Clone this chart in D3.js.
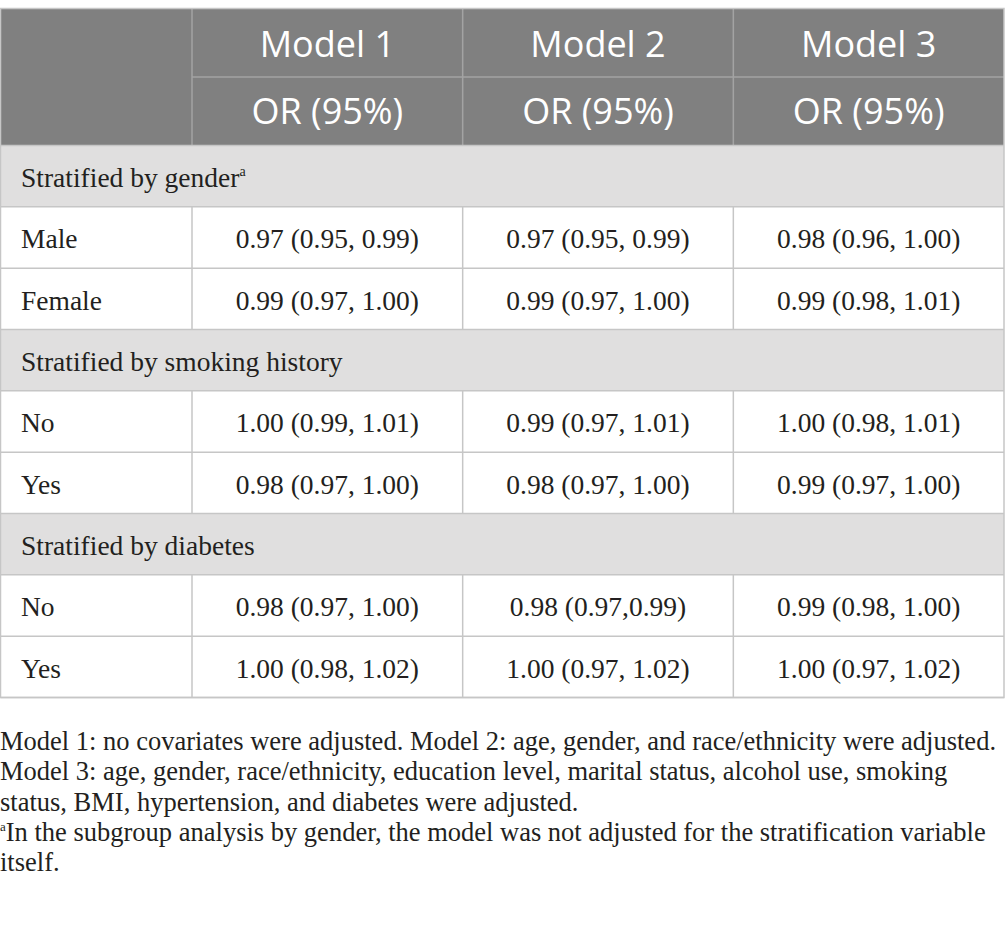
<!DOCTYPE html>
<html>
<head>
<meta charset="utf-8">
<script src="https://cdn.jsdelivr.net/npm/d3@7"></script>
<style>
  body { margin: 0; background: #fff; }
  svg { display: block; }
</style>
</head>
<body>
<div id="table"></div>
<script>
const models = ["Model 1", "Model 2", "Model 3"];
const subHeader = "OR (95%)";
const groups = ["Stratified by gender", "Stratified by smoking history", "Stratified by diabetes"];
const groupNotes = ["a", "", ""];
const subgroups = [["Male", "Female"], ["No", "Yes"], ["No", "Yes"]];
const model1 = ["0.97 (0.95, 0.99)", "0.99 (0.97, 1.00)", "1.00 (0.99, 1.01)", "0.98 (0.97, 1.00)", "0.98 (0.97, 1.00)", "1.00 (0.98, 1.02)"];
const model2 = ["0.97 (0.95, 0.99)", "0.99 (0.97, 1.00)", "0.99 (0.97, 1.01)", "0.98 (0.97, 1.00)", "0.98 (0.97,0.99)", "1.00 (0.97, 1.02)"];
const model3 = ["0.98 (0.96, 1.00)", "0.99 (0.98, 1.01)", "1.00 (0.98, 1.01)", "0.99 (0.97, 1.00)", "0.99 (0.98, 1.00)", "1.00 (0.97, 1.02)"];
const footnotes = [
    "Model 1: no covariates were adjusted. Model 2: age, gender, and race/ethnicity were adjusted.",
    "Model 3: age, gender, race/ethnicity, education level, marital status, alcohol use, smoking",
    "status, BMI, hypertension, and diabetes were adjusted.",
    "In the subgroup analysis by gender, the model was not adjusted for the stratification variable",
    "itself."
];
const footnoteMarks = ["", "", "", "a", ""];

const width = 1005, height = 929;
const tableLeft = 0.5, tableRight = 1004, labelRight = 192;
const headTop = 8.5, headBottom = 145.5, tableBottom = 697.5;
const colors = {
    head: "#808080", headLine: "#a3a3a3", group: "#e0dfdf",
    line: "#c6c6c6", text: "#231f20"
};
const serif = "'Liberation Serif', 'Times New Roman', serif";
const sans = "'Open Sans', 'Noto Sans', sans-serif";

// flatten groups into table rows
const rows = [];
let k = 0;
groups.forEach((g, i) => {
    rows.push({ type: "group", label: g, note: groupNotes[i], id: "g" + i });
    subgroups[i].forEach((s, j) => {
        rows.push({ type: "data", label: s, values: [model1[k], model2[k], model3[k]], id: "r" + i + j });
        k++;
    });
});

const svg = d3.select("#table").append("svg")
    .attr("width", width)
    .attr("height", height);

const x = d3.scaleBand().domain(models).range([labelRight, tableRight]);
const yHead = d3.scaleBand().domain(["model", "sub"]).range([headTop, headBottom]);
const y = d3.scaleBand().domain(rows.map(d => d.id)).range([headBottom, tableBottom]);

// header background
svg.append("rect")
    .attr("x", tableLeft).attr("y", headTop)
    .attr("width", tableRight - tableLeft).attr("height", headBottom - headTop)
    .attr("fill", colors.head);

// header grid
svg.selectAll(".head-v")
    .data(models)
    .enter().append("line")
    .attr("x1", d => x(d)).attr("x2", d => x(d))
    .attr("y1", headTop).attr("y2", headBottom)
    .attr("stroke", colors.headLine).attr("stroke-width", 1.5);

svg.append("line")
    .attr("x1", labelRight).attr("x2", tableRight)
    .attr("y1", yHead("sub")).attr("y2", yHead("sub"))
    .attr("stroke", colors.headLine).attr("stroke-width", 1.5);

svg.selectAll(".head-model")
    .data(models)
    .enter().append("text")
    .attr("x", d => x(d) + x.bandwidth() / 2)
    .attr("y", yHead("model") + yHead.bandwidth() / 2 + 14)
    .attr("text-anchor", "middle")
    .attr("font-family", sans).attr("font-size", 36)
    .attr("fill", "#fff")
    .text(d => d);

svg.selectAll(".head-sub")
    .data(models)
    .enter().append("text")
    .attr("x", d => x(d) + x.bandwidth() / 2)
    .attr("y", yHead("sub") + yHead.bandwidth() / 2 + 13)
    .attr("text-anchor", "middle")
    .attr("font-family", sans).attr("font-size", 36)
    .attr("fill", "#fff")
    .text(subHeader);

// body rows
const row = svg.selectAll(".row")
    .data(rows)
    .enter().append("g")
    .attr("transform", d => `translate(0,${y(d.id)})`);

row.append("rect")
    .attr("x", tableLeft).attr("width", tableRight - tableLeft)
    .attr("height", y.bandwidth())
    .attr("fill", d => d.type === "group" ? colors.group : "#fff");

const label = row.append("text")
    .attr("x", 21)
    .attr("y", y.bandwidth() / 2 + 11)
    .attr("font-family", serif).attr("font-size", 27.5)
    .attr("fill", colors.text)
    .text(d => d.label);

label.filter(d => d.note)
    .append("tspan")
    .attr("font-size", 14)
    .attr("dy", -11)
    .text(d => d.note);

const dataRows = row.filter(d => d.type === "data");

dataRows.selectAll(".cell")
    .data(d => d.values.map((v, i) => ({ model: models[i], v })))
    .enter().append("text")
    .attr("x", d => x(d.model) + x.bandwidth() / 2)
    .attr("y", y.bandwidth() / 2 + 11)
    .attr("text-anchor", "middle")
    .attr("font-family", serif).attr("font-size", 27.5)
    .attr("fill", colors.text)
    .text(d => d.v);

dataRows.selectAll(".vline")
    .data([labelRight].concat(models.slice(1).map(m => x(m))))
    .enter().append("line")
    .attr("x1", d => d).attr("x2", d => d)
    .attr("y1", 0).attr("y2", y.bandwidth())
    .attr("stroke", colors.line).attr("stroke-width", 1.5);

// horizontal rules
svg.selectAll(".hline")
    .data(rows.map(d => y(d.id)).concat([tableBottom]))
    .enter().append("line")
    .attr("x1", tableLeft).attr("x2", tableRight)
    .attr("y1", d => d).attr("y2", d => d)
    .attr("stroke", colors.line).attr("stroke-width", 1.5);

// outer frame
svg.append("rect")
    .attr("x", tableLeft).attr("y", headTop)
    .attr("width", tableRight - tableLeft).attr("height", tableBottom - headTop)
    .attr("fill", "none")
    .attr("stroke", colors.line).attr("stroke-width", 1.5);

// footnotes
const notes = svg.selectAll(".note")
    .data(footnotes)
    .enter().append("text")
    .attr("x", 0)
    .attr("y", (d, i) => 750 + i * 30.3)
    .attr("font-family", serif).attr("font-size", 26.5)
    .attr("fill", colors.text);

notes.append("tspan")
    .attr("font-size", 13)
    .attr("dy", -10)
    .text((d, i) => footnoteMarks[i]);

notes.append("tspan")
    .attr("dy", (d, i) => footnoteMarks[i] ? 10 : 0)
    .text(d => d);
</script>
</body>
</html>
